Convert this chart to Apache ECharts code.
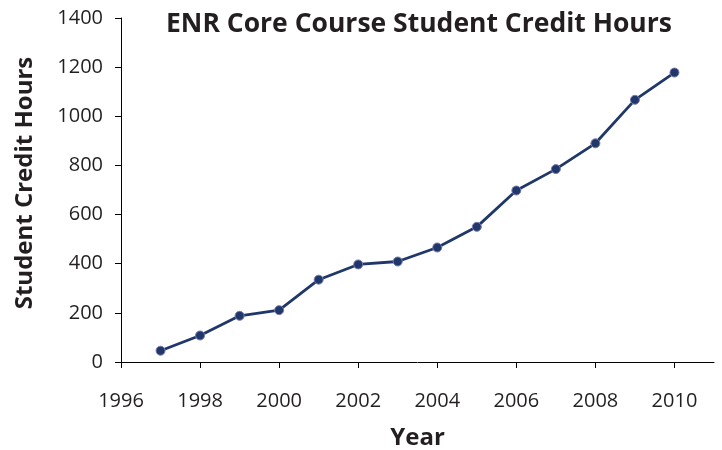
<!DOCTYPE html>
<html>
<head>
<meta charset="utf-8">
<script src="https://cdn.jsdelivr.net/npm/echarts@6/dist/echarts.min.js"></script>
<style>html,body{margin:0;padding:0;background:#fff}#c{width:722px;height:450px}</style>
</head>
<body>
<div id="c"></div>
<script>
const years = [1997, 1998, 1999, 2000, 2001, 2002, 2003, 2004, 2005, 2006, 2007, 2008, 2009, 2010];
const creditHours = [46, 108, 188, 211, 335, 397, 409, 466, 550, 698, 785, 890, 1067, 1178];
const xTicks = [1996, 1998, 2000, 2002, 2004, 2006, 2008, 2010];
const titleText = 'ENR Core Course Student Credit Hours';
const xName = 'Year';
const yName = 'Student Credit Hours';

const chart = echarts.init(document.getElementById('c'), null, {renderer: 'canvas'});
const txt = '#231f20';
chart.setOption({
  animation: false,
  textStyle: {fontFamily: 'Open Sans'},
  title: {
    text: titleText,
    left: 414, top: 6, textAlign: 'center',
    textStyle: {fontFamily: 'Open Sans', fontWeight: 'bold', fontSize: 26.5, color: txt}
  },
  grid: {left: 121, right: 8, top: 18, bottom: 88, containLabel: false, outerBoundsMode: 'none'},
  xAxis: {
    type: 'value', min: 1996, max: 2011, interval: 2,
    name: xName, nameLocation: 'middle', nameGap: 64,
    nameTextStyle: {fontFamily: 'Open Sans', fontWeight: 'bold', fontSize: 24, color: txt},
    axisLine: {show: true, onZero: false, lineStyle: {color: '#000', width: 1}},
    axisTick: {show: true, length: 6, lineStyle: {color: '#000'}, customValues: xTicks},
    axisLabel: {fontSize: 20, color: txt, margin: 29, customValues: xTicks, formatter: v => String(v)},
    splitLine: {show: false}
  },
  yAxis: {
    type: 'value', min: 0, max: 1400, interval: 200,
    name: yName, nameLocation: 'middle', nameGap: 84, nameRotate: 90,
    nameTextStyle: {fontFamily: 'Open Sans', fontWeight: 'bold', fontSize: 24, color: txt, padding: [0, 0, 0, 14]},
    axisLine: {show: true, lineStyle: {color: '#000', width: 1}},
    axisTick: {show: true, length: 6, lineStyle: {color: '#000'}},
    axisLabel: {fontSize: 20, color: txt, margin: 18, formatter: v => String(v)},
    splitLine: {show: false}
  },
  series: [{
    type: 'line',
    data: years.map((y, i) => [y, creditHours[i]]),
    symbol: 'circle', symbolSize: 9,
    lineStyle: {color: '#1f3769', width: 2.8},
    itemStyle: {color: '#1f3769', borderColor: '#7a78b0', borderWidth: 1}
  }]
});
</script>
</body>
</html>
